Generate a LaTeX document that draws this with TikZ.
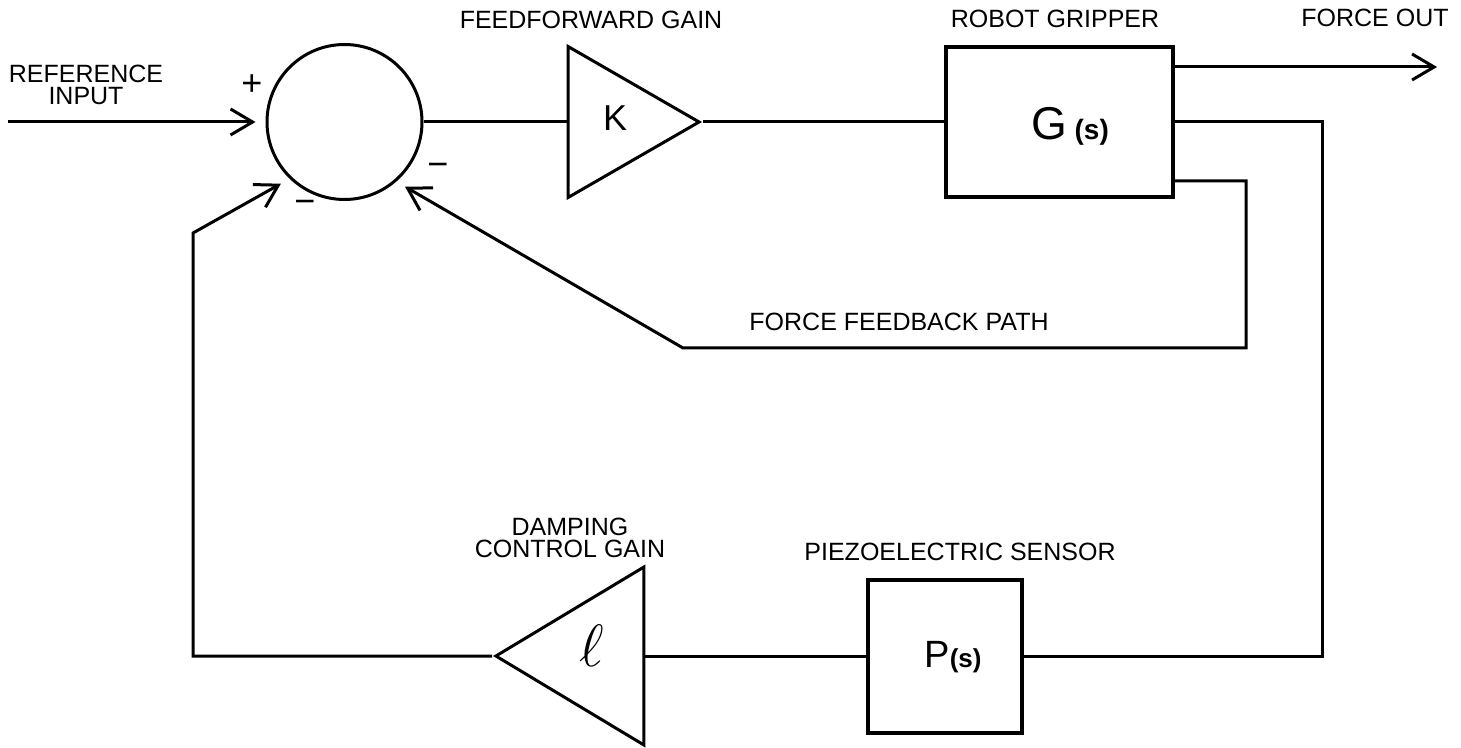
\documentclass[tikz,border=0pt]{standalone}
\usepackage{fontspec}
\setmainfont{Liberation Sans}
\usepackage{tikz}
\usetikzlibrary{arrows.meta,calc,positioning,shapes.geometric}
\tikzset{
>={Straight Barb[length=11pt,width=13pt]},
  sumnode/.style={
    circle,
    draw, line width=1.5pt,
    minimum size=77.5pt,
    inner sep=0pt},
  plantbox/.style={
    rectangle,
    draw, line width=2pt,
    inner sep=0pt},
  gainbox/.style={
    isosceles triangle,
    isosceles triangle stretches,
    draw, line width=1.5pt,
    inner sep=0pt},
  lbl/.style={font=\fontsize{12.5}{11}\selectfont, align=center, inner sep=0pt},
  sig/.style={line width=1.5pt},
}

\begin{document}
\begin{tikzpicture}[
    x=0.5pt, y=-0.5pt,
    sign/.style={font=\fontsize{18}{18}\selectfont, inner sep=0pt},
    blocktext/.style={inner sep=0pt},
    fb line/.style={sig, ->, shorten >=5pt}
    ]
    \useasboundingbox (0,0) rectangle (1461,748);

    %summing junction
    \node[sumnode] (sum) at (344.5,122) {};
    \coordinate (in) at (8,122);
    \node[sign] (plus) at (252,85) {+};
    \node[sign] (minusL) at (305,207) {−};
    \node[sign] (minusR) at (438,170) {−};
    \node[lbl] (refin) at (86,85) {REFERENCE\\INPUT};

    %forward path
    \node[gainbox, minimum width=75.5pt, minimum height=65.5pt, anchor=apex] (K) at (703,122) {};
    \node[blocktext, font=\fontsize{18}{18}\selectfont] (Ktxt) at (615,118) {K};
    \node[lbl] (fflbl) at (591,20) {FEEDFORWARD GAIN};

    \node[plantbox, minimum width=113.5pt, minimum height=75pt] (G) at (1059.5,122) {};
    \node[blocktext, font=\fontsize{23}{23}\selectfont] (Gtxt) at (1070,126)
        {G\,{\fontsize{14}{14}\bfseries\selectfont(s)}};
    \node[lbl] (glbl) at (1055,19) {ROBOT GRIPPER};

    \coordinate (out) at (1437,67);
    \node[lbl] (outlbl) at (1375,18) {FORCE OUT};

    %feedback paths
    \coordinate (outer) at (1322,122);
    \coordinate (tap) at ($(G.south east)+(0,-18)$);
    \coordinate (inner) at (1246,348);
    \coordinate (fbk) at (683,348);
    \node[lbl] (fblbl) at (899,322) {FORCE FEEDBACK PATH};

    \node[plantbox, minimum width=77pt, minimum height=76.5pt] (P) at (945,656) {};
    \node[blocktext, font=\fontsize{19}{19}\selectfont] (Ptxt) at (953,657)
        {P{\fontsize{13}{13}\bfseries\selectfont(s)}};
    \node[lbl] (plbl) at (960,552) {PIEZOELECTRIC SENSOR};

    \node[gainbox, shape border rotate=180, minimum width=89pt, minimum height=74pt, anchor=apex] (L) at (492,656) {};
    \node[blocktext, font=\Huge] (Ltxt) at (592,646) {\scalebox{1.2}{$\ell$}};
    \node[lbl] (llbl) at (570,538) {DAMPING\\CONTROL GAIN};
    \coordinate (dmp) at (193,233);

    %connections
    \draw[sig, ->, shorten >=5pt] (in) -- (sum.west);
    \draw[sig] (sum.east) -- (K.lower side);
    \draw[sig] (K.apex) -- (G.west);
    \draw[sig, ->] (G.east |- out) -- (out);
    \draw[sig] (G.east) -- (outer) |- (P.east);
    \draw[sig] (P.west) -- (L.lower side);
    \draw[fb line] (tap) -| (inner) -- (fbk) -- (sum.-49);
    \draw[fb line] (L.apex) -| (dmp) -- (sum.-134);

\end{tikzpicture}
\end{document}
